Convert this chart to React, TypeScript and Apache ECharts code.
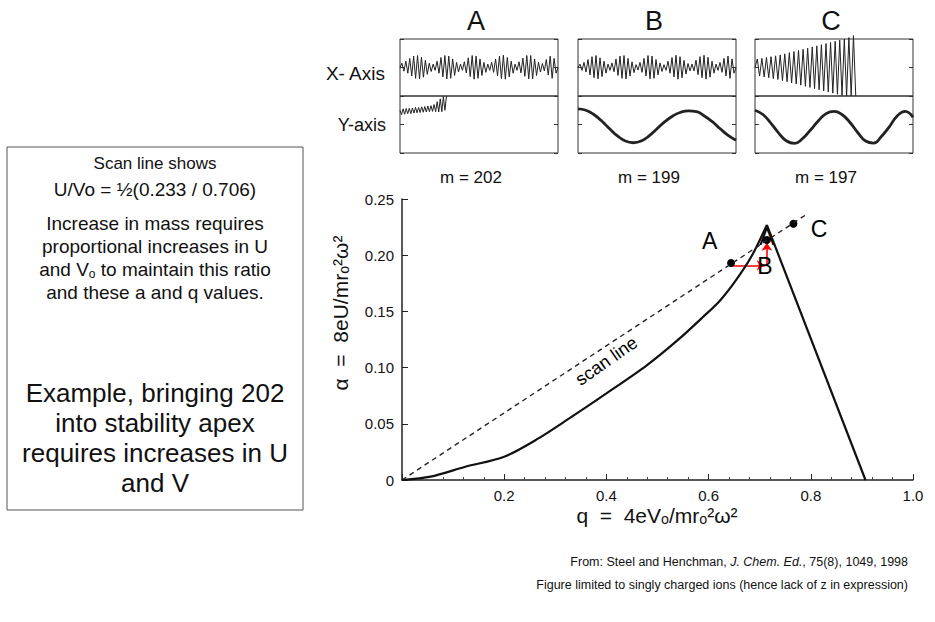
import React, { useEffect, useRef } from "react";
import * as echarts from "echarts";

const FONT = '"Liberation Sans", Arial, Helvetica, sans-serif';

// ---- main stability diagram (q, a) ----
// left (curved) branch of the stability boundary, up to the apex
const qLeftBranch = [0, 0.056, 0.124, 0.2, 0.267, 0.328, 0.4, 0.479, 0.54, 0.589, 0.623, 0.654, 0.684, 0.714];
const aLeftBranch = [0, 0.003, 0.0118, 0.0207, 0.037, 0.055, 0.077, 0.102, 0.1246, 0.145, 0.16, 0.178, 0.199, 0.227];
// right (straight) branch, apex to the a = 0 crossing
const qRightBranch = [0.714, 0.907];
const aRightBranch = [0.227, 0];
const scanQ = [0, 0.794];
const scanA = [0, 0.237];
const dotQ = [0.644, 0.714, 0.766];
const dotA = [0.193, 0.2135, 0.228];
const pointLabels = ["A", "A", "B", "C"];
const labelQ = [0.602, 0.714, 0.71, 0.816];
const labelA = [0.2125, 0.216, 0.19, 0.2235];
const arrowFromQ = [0.644, 0.714];
const arrowFromA = [0.191, 0.191];
const arrowToQ = [0.71, 0.714];
const arrowToA = [0.191, 0.211];
const scanTextQ = [0.4];
const scanTextA = [0.106];

// ---- trajectory panels ----
const panelNames = ["A", "B", "C"];
const massLabels = ["m = 202", "m = 199", "m = 197"];
const traceAX = [0, 0.15, -0.13, 0.22, -0.2, 0.32, -0.3, 0.4, -0.38, 0.42, -0.4, 0.36, -0.34, 0.25, -0.24, 0.15, -0.14, 0.12, -0.1, 0.22, -0.2, 0.35, -0.33, 0.42, -0.4, 0.4, -0.38, 0.3, -0.28, 0.18, -0.16, 0.12, -0.1, 0.2, -0.19, 0.34, -0.32, 0.42, -0.41, 0.4, -0.38, 0.3, -0.28, 0.18, -0.17, 0.12, -0.1, 0.18, -0.17, 0.3, -0.29, 0.4, -0.39, 0.43, -0.41, 0.35, -0.33, 0.22, -0.2, 0.12, -0.1, 0.2, -0.19, 0.33, -0.31, 0.42, -0.4, 0.42, -0.4, 0.3, -0.28, 0.18, -0.16, 0.14, -0.12, 0.28, -0.26, 0.4, -0.38, 0.32, -0.2, 0];
const traceBX = [0, 0.12, -0.1, 0.18, -0.16, 0.28, -0.26, 0.38, -0.36, 0.42, -0.4, 0.34, -0.32, 0.22, -0.2, 0.12, -0.1, 0.16, -0.15, 0.3, -0.28, 0.4, -0.38, 0.42, -0.4, 0.32, -0.3, 0.2, -0.18, 0.1, -0.09, 0.18, -0.17, 0.32, -0.3, 0.42, -0.4, 0.4, -0.38, 0.28, -0.26, 0.16, -0.14, 0.1, -0.1, 0.22, -0.2, 0.35, -0.33, 0.43, -0.41, 0.38, -0.36, 0.25, -0.23, 0.14, -0.12, 0.12, -0.12, 0.26, -0.25, 0.38, -0.36, 0.43, -0.41, 0.36, -0.34, 0.22, -0.2, 0.12, -0.1, 0.18, -0.17, 0.32, -0.3, 0.4, -0.38, 0.3, -0.2, 0];
const traceCX = [0, 0.3, -0.3, 0.32, -0.33, 0.35, -0.36, 0.38, -0.39, 0.41, -0.42, 0.44, -0.46, 0.48, -0.5, 0.52, -0.54, 0.56, -0.58, 0.6, -0.62, 0.64, -0.66, 0.68, -0.7, 0.72, -0.74, 0.76, -0.78, 0.8, -0.82, 0.84, -0.86, 0.88, -0.9, 0.92, -0.94, 0.96, -0.98, 1.0, -1.0, 1.05, -1.0, 1.12, -1.0];
const traceAY = [0.5, 0.35, 0.55, 0.36, 0.56, 0.38, 0.57, 0.38, 0.58, 0.4, 0.6, 0.41, 0.6, 0.42, 0.62, 0.43, 0.63, 0.44, 0.65, 0.45, 0.66, 0.46, 0.7, 0.45, 0.8, 0.44, 0.9, 0.45, 0.98, 0.5, 1.0];
const traceBY = [0.55, 0.5, 0.35, 0.12, -0.15, -0.4, -0.58, -0.64, -0.58, -0.4, -0.15, 0.1, 0.3, 0.43, 0.48, 0.45, 0.3, 0.1, -0.15, -0.38, -0.55];
const traceCY = [0.5, 0.35, 0.05, -0.3, -0.58, -0.66, -0.5, -0.2, 0.12, 0.38, 0.46, 0.35, 0.08, -0.28, -0.58, -0.65, -0.42, -0.08, 0.3, 0.46, 0.25];
// number of category slots across the full panel width for each trace
const slotsX = [traceAX.length, traceBX.length, 70];
const slotsY = [103, traceBY.length, traceCY.length];

const boxLinesSmall = [
  "Increase in mass requires",
  "proportional increases in U",
  "{n|and V}{s|o}{n| to maintain this ratio}",
  "and these a and q values.",
];
const boxLinesBig = ["Example, bringing 202", "into stability apex", "requires increases in U", "and V"];

export default function App() {
  const ref = useRef<HTMLDivElement>(null);
  useEffect(() => {
    const chart = echarts.init(ref.current!, undefined, { renderer: "svg" });

    const panelLeft = [400, 578, 755];
    const panelW = 158;
    const upperTop = 39;
    const halfH = 57;

    const grids: any[] = [{ left: 402, right: 22, top: 199, bottom: 142 }];
    const xAxes: any[] = [
      {
        type: "value", gridIndex: 0, min: 0, max: 1, interval: 0.2,
        axisLine: { lineStyle: { color: "#222", width: 1.5 } },
        axisTick: { inside: true, length: 6, lineStyle: { color: "#222" } },
        minorTick: { show: true, splitNumber: 5, length: 3, lineStyle: { color: "#444" } },
        splitLine: { show: false },
        axisLabel: {
          fontFamily: FONT, fontSize: 15, color: "#111", margin: 8,
          formatter: (v: number) => (v === 0 ? "" : v.toFixed(1)),
        },
      },
    ];
    const yAxes: any[] = [
      {
        type: "value", gridIndex: 0, min: 0, max: 0.25, interval: 0.05,
        axisLine: { show: true, lineStyle: { color: "#222", width: 1.5 } },
        axisTick: { show: true, inside: true, length: 6, lineStyle: { color: "#222" } },
        splitLine: { show: false },
        axisLabel: {
          fontFamily: FONT, fontSize: 15, color: "#111", margin: 8,
          formatter: (v: number) => (v === 0 ? "0" : v.toFixed(2)),
        },
      },
    ];
    const series: any[] = [
      {
        type: "line", xAxisIndex: 0, yAxisIndex: 0, symbol: "none", smooth: 0.3,
        data: qLeftBranch.map((q, i) => [q, aLeftBranch[i]]),
        lineStyle: { color: "#111", width: 2.2 },
      },
      {
        type: "line", xAxisIndex: 0, yAxisIndex: 0, symbol: "none",
        data: qRightBranch.map((q, i) => [q, aRightBranch[i]]),
        lineStyle: { color: "#111", width: 2.2, join: "miter" },
      },
      {
        type: "line", xAxisIndex: 0, yAxisIndex: 0, symbol: "none",
        data: scanQ.map((q, i) => [q, scanA[i]]),
        lineStyle: { color: "#222", width: 1.4, type: [5, 4] },
      },
      {
        type: "lines", coordinateSystem: "cartesian2d", xAxisIndex: 0, yAxisIndex: 0,
        symbol: ["none", "arrow"], symbolSize: 8,
        lineStyle: { color: "#ff0000", width: 1.6, opacity: 1 },
        data: arrowFromQ.map((q, i) => ({ coords: [[q, arrowFromA[i]], [arrowToQ[i], arrowToA[i]]] })),
      },
      {
        type: "scatter", xAxisIndex: 0, yAxisIndex: 0, symbolSize: 8,
        itemStyle: { color: "#000", opacity: 1 },
        data: dotQ.map((q, i) => [q, dotA[i]]),
      },
      {
        type: "scatter", xAxisIndex: 0, yAxisIndex: 0, symbolSize: 0,
        itemStyle: { opacity: 1 },
        label: { show: true, position: "inside", formatter: "{b}", fontFamily: FONT, fontSize: 23, color: "#000" },
        data: pointLabels.map((n, i) => ({ name: n, value: [labelQ[i], labelA[i]] })),
      },
      {
        type: "scatter", xAxisIndex: 0, yAxisIndex: 0, symbolSize: 0,
        itemStyle: { opacity: 1 },
        label: { show: true, position: "inside", formatter: "{b}", rotate: 35, fontFamily: FONT, fontSize: 18, color: "#000" },
        data: scanTextQ.map((q, i) => ({ name: "scan line", value: [q, scanTextA[i]] })),
      },
    ];

    const tracesX = [traceAX, traceBX, traceCX];
    const tracesY = [traceAY, traceBY, traceCY];
    for (let p = 0; p < 3; p++) {
      for (let h = 0; h < 2; h++) {
        const gi = grids.length;
        grids.push({
          left: panelLeft[p], width: panelW, top: upperTop + h * halfH, height: halfH,
          show: true, borderColor: "#333", borderWidth: 1,
        });
        const slots = h === 0 ? slotsX[p] : slotsY[p];
        xAxes.push({
          type: "category", gridIndex: gi, boundaryGap: false, show: false,
          data: Array.from({ length: slots }, (_, i) => i),
        });
        const yi = yAxes.length;
        for (const pos of ["left", "right"]) {
          yAxes.push({
            type: "value", gridIndex: gi, min: -1, max: 1, interval: 1, position: pos,
            axisLine: { show: false },
            axisTick: { show: true, inside: true, length: 4, lineStyle: { color: "#333" } },
            axisLabel: { show: false },
            splitLine: { show: false },
          });
        }
        const smooth = h === 1 && p > 0;
        series.push({
          type: "line", xAxisIndex: gi, yAxisIndex: yi, symbol: "none",
          smooth, clip: false,
          data: h === 0 ? tracesX[p] : tracesY[p],
          lineStyle: { color: "#222", width: smooth ? 2.8 : 1 },
        });
      }
    }

    const graphic: any[] = [];
    panelNames.forEach((n, p) => {
      const cx = panelLeft[p] + panelW / 2;
      graphic.push({
        type: "text", x: cx - 3, y: 21,
        style: { text: n, fontFamily: FONT, fontSize: 27, fill: "#111", align: "center", verticalAlign: "middle" },
      });
      graphic.push({
        type: "text", x: cx - 8, y: 177,
        style: { text: massLabels[p], fontFamily: FONT, fontSize: 17, fill: "#111", align: "center", verticalAlign: "middle" },
      });
    });
    graphic.push({
      type: "text", x: 385, y: 73,
      style: { text: "X- Axis", fontFamily: FONT, fontSize: 19, fill: "#111", align: "right", verticalAlign: "middle" },
    });
    graphic.push({
      type: "text", x: 386, y: 125,
      style: { text: "Y-axis", fontFamily: FONT, fontSize: 18, fill: "#111", align: "right", verticalAlign: "middle" },
    });
    // axis names
    graphic.push({
      type: "text", x: 340, y: 313, rotation: Math.PI / 2,
      style: { text: "α  =  8eU/mrₒ²ω²", fontFamily: FONT, fontSize: 21, fill: "#111", align: "center", verticalAlign: "middle" },
    });
    graphic.push({
      type: "text", x: 657, y: 515,
      style: { text: "q  =  4eVₒ/mrₒ²ω²", fontFamily: FONT, fontSize: 21, fill: "#111", align: "center", verticalAlign: "middle" },
    });
    // left text box
    graphic.push({
      type: "rect", shape: { x: 7, y: 147, width: 296, height: 363 },
      style: { fill: "none", stroke: "#555", lineWidth: 1 },
    });
    graphic.push({
      type: "text", x: 155, y: 163,
      style: { text: "Scan line shows", fontFamily: FONT, fontSize: 17, fill: "#111", align: "center", verticalAlign: "middle" },
    });
    graphic.push({
      type: "text", x: 155, y: 189,
      style: { text: "U/Vo = ½(0.233 / 0.706)", fontFamily: FONT, fontSize: 19, fill: "#111", align: "center", verticalAlign: "middle" },
    });
    boxLinesSmall.forEach((t, i) => {
      graphic.push({
        type: "text", x: 155, y: 223 + i * 23,
        style: {
          text: t, fontFamily: FONT, fontSize: 19, fill: "#111", align: "center", verticalAlign: "middle",
          rich: {
            n: { fontFamily: FONT, fontSize: 19, fill: "#111" },
            s: { fontFamily: FONT, fontSize: 12, fill: "#111", padding: [9, 0, 0, 0] },
          },
        },
      });
    });
    boxLinesBig.forEach((t, i) => {
      graphic.push({
        type: "text", x: 155, y: 393 + i * 30,
        style: { text: t, fontFamily: FONT, fontSize: 26, fill: "#111", align: "center", verticalAlign: "middle" },
      });
    });
    // footnotes
    graphic.push({
      type: "text", x: 908, y: 562,
      style: {
        text: "{n|From: Steel and Henchman, }{i|J. Chem. Ed.}{n|, 75(8), 1049, 1998}",
        align: "right", verticalAlign: "middle",
        rich: {
          n: { fontFamily: FONT, fontSize: 12.5, fill: "#111" },
          i: { fontFamily: FONT, fontSize: 12.5, fontStyle: "italic", fill: "#111" },
        },
      },
    });
    graphic.push({
      type: "text", x: 908, y: 585,
      style: {
        text: "Figure limited to singly charged ions (hence lack of z in expression)",
        fontFamily: FONT, fontSize: 12.5, fill: "#111", align: "right", verticalAlign: "middle",
      },
    });

    chart.setOption({
      animation: false,
      backgroundColor: "#ffffff",
      grid: grids,
      xAxis: xAxes,
      yAxis: yAxes,
      series,
      graphic,
    });
    return () => chart.dispose();
  }, []);
  return <div ref={ref} style={{ position: "fixed", left: 0, top: 0, width: 935, height: 622 }} />;
}
